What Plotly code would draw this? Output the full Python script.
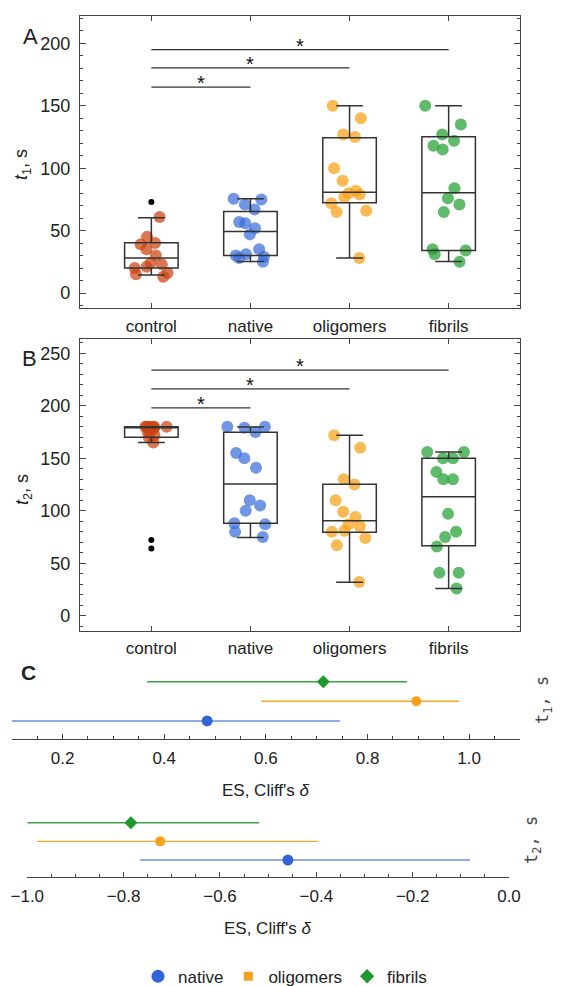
import plotly.graph_objects as go

# ---------------- data ----------------
categories = ["control", "native", "oligomers", "fibrils"]

# Panel A: t1, s  (individual points)
t1_control = [61, 45, 40, 39, 35, 30, 24, 23, 21, 20, 16, 15, 13]
t1_native = [75.5, 75, 71, 67, 57, 56, 52, 47, 35, 31, 30, 29, 28, 25]
t1_oligomers = [150, 140, 127, 125, 100, 90, 82, 80, 79, 77, 72, 66, 65, 28]
t1_fibrils = [150, 135, 127, 122, 118, 115, 84, 76, 71, 65, 35, 34, 31, 25]
t1_outliers_control = [73]

# Panel A box statistics
t1_q1 = [20, 30, 72.3, 34]
t1_median = [28, 49.3, 80.8, 80.3]
t1_q3 = [40.3, 65.3, 124.5, 125.3]
t1_lowerfence = [14.4, 25.3, 28, 25.3]
t1_upperfence = [60.3, 75.5, 150, 150]

# Panel B: t2, s
t2_control = [180, 180, 180, 180, 180, 180, 179, 178, 176, 175, 172, 170, 165]
t2_native = [180, 180, 179, 175, 155, 150, 141, 110, 105, 100, 88, 87, 80, 75]
t2_oligomers = [172, 160, 130, 125, 110, 99, 94, 87, 85, 81, 80, 74, 67, 32]
t2_fibrils = [156, 156, 150, 150, 137, 130, 130, 97, 80, 75, 66, 41, 41, 26]
t2_outliers_control = [72, 64]

t2_q1 = [170, 88, 79.4, 66.7]
t2_median = [180, 125.5, 90.5, 113.4]
t2_q3 = [180, 174.7, 125.2, 150]
t2_lowerfence = [165, 74.6, 31.8, 26]
t2_upperfence = [180, 179.8, 171.9, 156]

# significance bars (control vs native / oligomers / fibrils)
sig_levels_t1 = [165, 180.5, 195]
sig_levels_t2 = [198, 216, 234]

# Panel C: effect sizes (Cliff's delta) with CI
es_groups = ["native", "oligomers", "fibrils"]
es_t1 = [0.4845, 0.896, 0.713]
es_t1_lo = [0.10, 0.591, 0.3665]
es_t1_hi = [0.7455, 0.980, 0.878]
es_t2 = [-0.459, -0.724, -0.785]
es_t2_lo = [-0.766, -0.979, -1.0]
es_t2_hi = [-0.081, -0.396, -0.519]

# ---------------- styles ----------------
pt_colors = ["rgba(204,68,17,0.72)", "rgba(58,110,218,0.72)",
             "rgba(248,160,20,0.72)", "rgba(35,160,50,0.72)"]
es_colors = ["#3264D6", "#F8A11A", "#1E9A2A"]
es_line_colors = ["#6A8FE0", "#F6A82A", "#3BA546"]
es_symbols = ["circle", "circle", "diamond"]
es_sizes = [11, 10, 10]
legend_symbols = ["circle", "square", "diamond"]
legend_sizes = [13, 9, 11]

W, H = 561, 986
FONT = "Liberation Sans, Arial, sans-serif"
TXT = "#222222"
AX = "#444444"


def px_x(p):
    return p / W


def px_y(p):
    return 1 - p / H


fig = go.Figure()

panels = [
    ("x", "y", [t1_control, t1_native, t1_oligomers, t1_fibrils], t1_outliers_control,
     t1_q1, t1_median, t1_q3, t1_lowerfence, t1_upperfence, sig_levels_t1),
    ("x2", "y2", [t2_control, t2_native, t2_oligomers, t2_fibrils], t2_outliers_control,
     t2_q1, t2_median, t2_q3, t2_lowerfence, t2_upperfence, sig_levels_t2),
]

for xa, ya, groups, outl, q1, med, q3, lf, uf, levels in panels:
    # jittered points
    for i, vals in enumerate(groups):
        fig.add_trace(go.Box(
            x=[i] * len(vals), y=vals, xaxis=xa, yaxis=ya,
            boxpoints="all", jitter=0.9, pointpos=0, width=0.54,
            marker=dict(color=pt_colors[i], size=12, line=dict(width=0)),
            line=dict(width=0, color="rgba(0,0,0,0)"),
            fillcolor="rgba(0,0,0,0)", showlegend=False, hoverinfo="y",
        ))
    # outliers
    fig.add_trace(go.Scatter(
        x=[0] * len(outl), y=outl, xaxis=xa, yaxis=ya, mode="markers",
        marker=dict(color="black", size=6), showlegend=False,
    ))
    # boxes from statistics
    fig.add_trace(go.Box(
        x=list(range(len(categories))), q1=q1, median=med, q3=q3,
        lowerfence=lf, upperfence=uf, xaxis=xa, yaxis=ya,
        width=0.54, whiskerwidth=0.5, boxpoints=False,
        line=dict(color="#333333", width=1.5),
        fillcolor="rgba(0,0,0,0)", showlegend=False,
    ))
    # significance bars
    for k, lev in enumerate(levels):
        fig.add_trace(go.Scatter(
            x=[0, k + 1], y=[lev, lev], xaxis=xa, yaxis=ya, mode="lines",
            line=dict(color="#333333", width=1.3), showlegend=False, hoverinfo="skip",
        ))
        fig.add_annotation(
            x=(k + 1) / 2, y=lev, xref=xa, yref=ya, text="*", showarrow=False,
            yanchor="middle", yshift=4, font=dict(size=20, color="#111111", family=FONT),
        )

# Panel C
for xa, ya, est, lo, hi in [("x3", "y3", es_t1, es_t1_lo, es_t1_hi),
                            ("x4", "y4", es_t2, es_t2_lo, es_t2_hi)]:
    for j, g in enumerate(es_groups):
        fig.add_trace(go.Scatter(
            x=[est[j]], y=[j + 1], xaxis=xa, yaxis=ya, mode="markers",
            marker=dict(color=es_colors[j], size=es_sizes[j], symbol=es_symbols[j]),
            error_x=dict(type="data", symmetric=False,
                         array=[hi[j] - est[j]], arrayminus=[est[j] - lo[j]],
                         color=es_line_colors[j], thickness=1.4, width=0),
            showlegend=False,
        ))

# legend entries
for j, g in enumerate(es_groups):
    fig.add_trace(go.Scatter(
        x=[None], y=[None], xaxis="x3", yaxis="y3", mode="markers", name=g,
        marker=dict(color=es_colors[j], size=legend_sizes[j], symbol=legend_symbols[j]),
        showlegend=True,
    ))

# ---------------- axes ----------------
cat_x = dict(
    range=[-0.72, 3.72], tickmode="array", tickvals=list(range(len(categories))),
    ticktext=categories, ticks="inside", ticklen=5, tickcolor=AX,
    showline=True, linecolor=AX, linewidth=1.3, mirror="ticks",
    showgrid=False, zeroline=False, ticklabelstandoff=2, automargin=False,
    tickfont=dict(size=17, color=TXT, family=FONT),
)
val_y = dict(
    ticks="inside", ticklen=6, tickcolor=AX, tickmode="linear", tick0=0, dtick=50,
    minor=dict(ticks="inside", ticklen=3, dtick=10, tickcolor=AX, showgrid=False),
    showline=True, linecolor=AX, linewidth=1.3, mirror="ticks",
    showgrid=False, zeroline=False, ticklabelstandoff=5, automargin=False,
    tickfont=dict(size=18, color=TXT, family=FONT),
)
es_x = dict(
    tickmode="linear", dtick=0.2, tickformat=".1f",
    ticks="inside", ticklen=5, tickcolor=AX,
    minor=dict(ticks="inside", ticklen=3, dtick=0.05, tick0=0, tickcolor=AX, showgrid=False),
    showline=True, linecolor=AX, linewidth=1.3, showgrid=False, zeroline=False,
    ticklabelstandoff=3, automargin=False,
    tickfont=dict(size=17, color=TXT, family=FONT),
)

fig.update_layout(
    xaxis=dict(cat_x, domain=[px_x(80), px_x(520)], anchor="y"),
    yaxis=dict(val_y, domain=[px_y(308), px_y(16)], range=[-12, 222], anchor="x"),
    xaxis2=dict(cat_x, domain=[px_x(80), px_x(520)], anchor="y2"),
    yaxis2=dict(val_y, domain=[px_y(630.7), px_y(339.3)], range=[-14.3, 263.3], anchor="x2"),
    xaxis3=dict(es_x, domain=[px_x(11.7), px_x(520)], range=[0.1, 1.1], tick0=0.2, anchor="y3"),
    yaxis3=dict(domain=[px_y(739), px_y(665)], range=[0.08, 3.85], anchor="x3",
                visible=False, automargin=False),
    xaxis4=dict(es_x, domain=[px_x(27.3), px_x(509)], range=[-1.0, 0.0], tick0=-1.0, anchor="y4"),
    yaxis4=dict(domain=[px_y(877.3), px_y(810)], range=[0.075, 3.68], anchor="x4",
                visible=False, automargin=False),
    boxmode="overlay",
    width=W, height=H,
    margin=dict(l=0, r=0, t=0, b=0, autoexpand=False),
    paper_bgcolor="white", plot_bgcolor="white",
    font=dict(family=FONT, color=TXT),
    legend=dict(orientation="h", x=px_x(285), xanchor="center", y=px_y(976.7),
                yanchor="middle", font=dict(size=17, color=TXT, family=FONT),
                itemsizing="trace", bgcolor="rgba(0,0,0,0)"),
)

# ---------------- annotations ----------------
ann = [
    dict(x=px_x(30), y=px_y(36), text="A", font=dict(size=22)),
    dict(x=px_x(29), y=px_y(358), text="B", font=dict(size=22)),
    dict(x=px_x(28), y=px_y(672), text="<b>C</b>", font=dict(size=21)),
    dict(x=px_x(23), y=px_y(165), text="<i>t</i><sub>1</sub>, s", textangle=-90,
         font=dict(size=18)),
    dict(x=px_x(23), y=px_y(490), text="<i>t</i><sub>2</sub>, s", textangle=-90,
         font=dict(size=18)),
    dict(x=px_x(266), y=px_y(790), text="ES, Cliff's <i>δ</i>", font=dict(size=17)),
    dict(x=px_x(268), y=px_y(928), text="ES, Cliff's <i>δ</i>", font=dict(size=17)),
    dict(x=px_x(543), y=px_y(700), text="t<sub>1</sub>, s", textangle=-90,
         font=dict(size=17, family="DejaVu Sans Mono", color="#444444")),
    dict(x=px_x(532), y=px_y(840), text="t<sub>2</sub>, s", textangle=-90,
         font=dict(size=17, family="DejaVu Sans Mono", color="#444444")),
]
for a in ann:
    f = dict(family=FONT, color=TXT)
    f.update(a.pop("font"))
    fig.add_annotation(xref="paper", yref="paper", showarrow=False,
                       xanchor="center", yanchor="middle", font=f, **a)

fig.write_html(
    "out.html",
    config={"displayModeBar": False},
    post_script="document.body.style.margin='0';document.body.style.overflow='hidden';",
)
